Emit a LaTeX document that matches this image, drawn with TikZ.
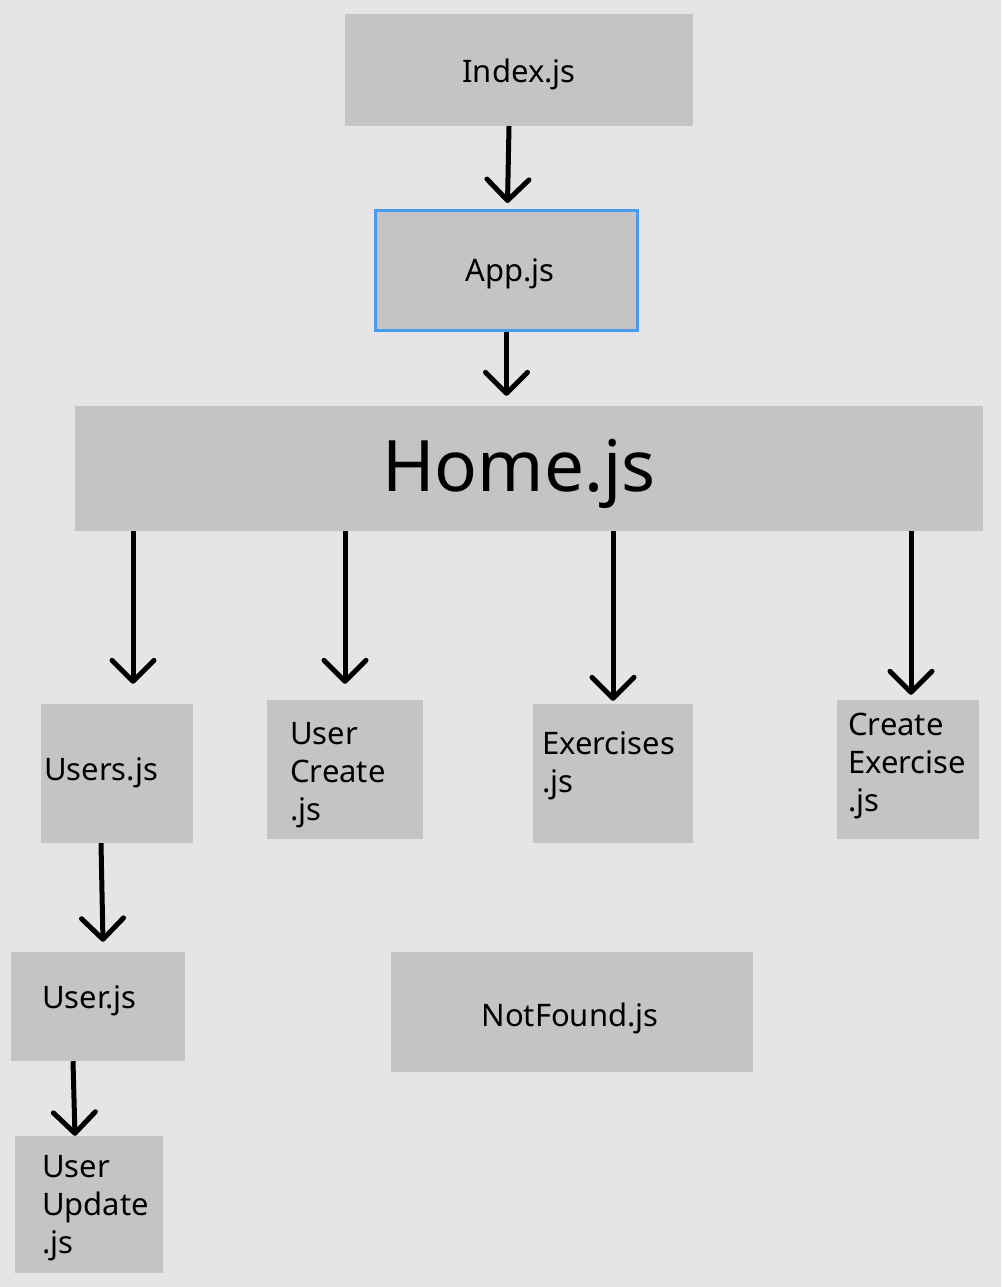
\documentclass[tikz,border=0pt]{standalone}
\usepackage{fontspec}
\setmainfont{Noto Sans}
\usetikzlibrary{arrows.meta}
\definecolor{bgc}{HTML}{E5E5E5}
\definecolor{boxc}{HTML}{C4C4C4}
\definecolor{selc}{HTML}{4A9BF0}
\begin{document}
\begin{tikzpicture}[x=1pt,y=-1pt,
  box/.style={fill=boxc, draw=none, inner sep=0pt, font=\fontsize{31}{38}\selectfont},
  lbl/.style={font=\fontsize{31}{38}\selectfont, inner sep=0pt, align=left, anchor=west},
  arr/.style={line width=5pt, -{Straight Barb[length=21pt,width=42pt,round]}}]
\fill[bgc] (0,0) rectangle (1001,1287);
\useasboundingbox (0,0) rectangle (1001,1287);
% boxes
\node[box, minimum width=348pt, minimum height=112pt] (index) at (519,70) {};
\node[font=\fontsize{31}{38}\selectfont, inner sep=0pt] (indexT) at (519,74) {Index.js};
\node[box, draw=selc, line width=3pt, minimum width=262pt, minimum height=120pt] (app) at (506.5,270.5) {};
\node[font=\fontsize{31}{38}\selectfont, inner sep=0pt] (appT) at (510,274) {App.js};
\node[box, minimum width=908pt, minimum height=125pt] (home) at (529,468.5) {};
\node[font=\fontsize{71}{80}\selectfont, inner sep=0pt] (homeT) at (519,474) {Home.js};
\node[box, minimum width=152pt, minimum height=139pt] (users) at (117,773.5) {};
\node[box, minimum width=156pt, minimum height=139pt] (ucreate) at (345,769.5) {};
\node[box, minimum width=160pt, minimum height=139pt] (exer) at (613,773.5) {};
\node[box, minimum width=142pt, minimum height=139pt] (cexer) at (908,769.5) {};
\node[box, minimum width=174pt, minimum height=109pt] (user) at (98,1006.5) {};
\node[box, minimum width=148pt, minimum height=137pt] (uupdate) at (89,1204.5) {};
\node[box, minimum width=362pt, minimum height=120pt] (notfound) at (572,1012) {};
\node[font=\fontsize{31}{38}\selectfont, inner sep=0pt] (notfoundT) at (570,1018) {NotFound.js};
% labels
\node[lbl] (usersT) at (44,773) {Users.js};
\node[lbl] (ucreateT) at (290,775) {User\\Create\\.js};
\node[lbl] (exerT) at (542,766) {Exercises\\.js};
\node[lbl] (cexerT) at (848,766) {Create\\Exercise\\.js};
\node[lbl] (userT) at (42,1001) {User.js};
\node[lbl] (uupdateT) at (42,1208) {User\\Update\\.js};
% arrows
\draw[arr] ([xshift=-10pt]index.south) -- ([xshift=1pt,yshift=6pt]app.north);
\draw[arr] (app.south) -- ([yshift=10pt]home.north -| app.south);
\draw[arr] ([xshift=16pt]users.north |- home.south) -- ([xshift=16pt,yshift=20pt]users.north);
\draw[arr] (ucreate.north |- home.south) -- ([yshift=16pt]ucreate.north);
\draw[arr] (exer.north |- home.south) -- ([yshift=3pt]exer.north);
\draw[arr] ([xshift=3pt]cexer.north |- home.south) -- ([xshift=3pt,yshift=5pt]cexer.north);
\draw[arr] ([xshift=-16pt]users.south) -- ([xshift=5pt,yshift=10pt]user.north);
\draw[arr] ([xshift=-25pt]user.south) -- ([xshift=-14pt]uupdate.north);
\end{tikzpicture}
\end{document}
